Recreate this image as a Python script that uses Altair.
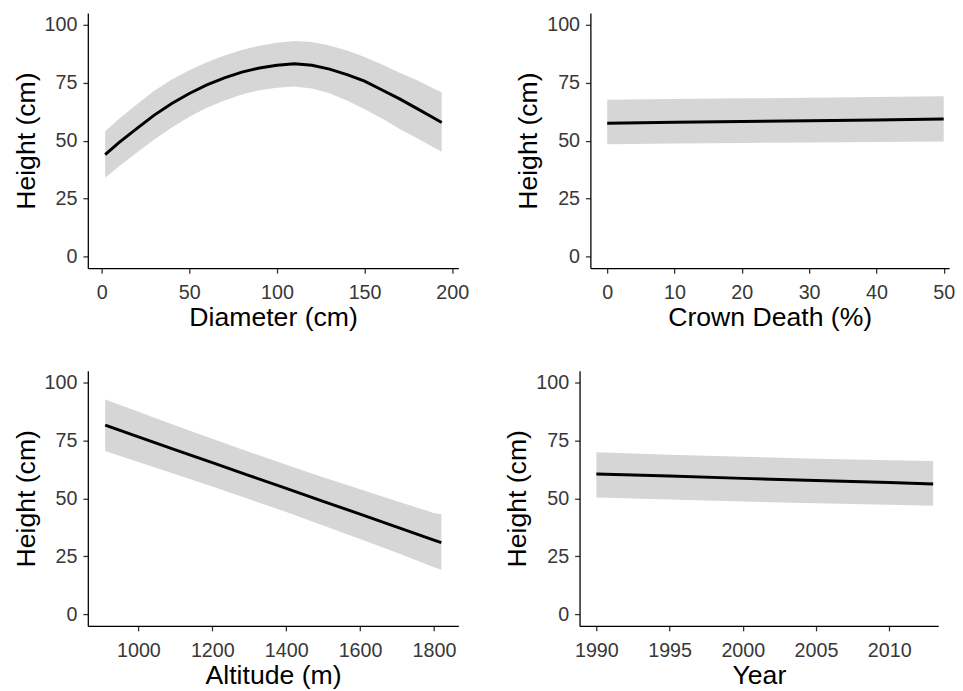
import altair as alt
import pandas as pd

# ---- data ----
diam = [2, 10, 20, 30, 40, 50, 60, 70, 80, 90, 100, 110, 120, 130, 140, 150, 160, 170, 180, 190, 194]
diam_fit = [44.0, 49.2, 55.2, 61.0, 66.0, 70.3, 74.0, 77.0, 79.5, 81.3, 82.5, 83.1, 82.5, 80.8, 78.4, 75.6, 71.8, 68.0, 63.8, 59.5, 57.8]
diam_hi = [54.0, 59.4, 65.6, 71.5, 76.3, 80.3, 83.8, 86.7, 89.1, 90.9, 92.2, 92.9, 92.5, 91.0, 88.8, 86.0, 82.8, 79.2, 76.0, 72.2, 70.8]
diam_lo = [34.0, 39.0, 44.8, 50.5, 55.7, 60.3, 64.2, 67.3, 69.9, 71.7, 72.8, 73.3, 72.5, 70.4, 67.3, 63.5, 59.5, 55.0, 51.0, 46.8, 45.2]

crown = [0, 10, 20, 30, 40, 50]
crown_fit = [57.5, 57.9, 58.2, 58.6, 58.9, 59.3]
crown_hi = [67.6, 67.9, 68.2, 68.5, 68.8, 69.1]
crown_lo = [48.4, 48.7, 49.0, 49.2, 49.4, 49.6]

altitude = [910, 1000, 1100, 1200, 1300, 1400, 1500, 1600, 1700, 1800, 1820]
alt_fit = [81.5, 76.5, 70.9, 65.4, 59.8, 54.3, 48.7, 43.2, 37.6, 32.0, 30.9]
alt_hi = [92.6, 87.3, 81.4, 75.7, 70.0, 64.5, 59.1, 53.9, 48.7, 43.7, 43.1]
alt_lo = [70.4, 65.7, 60.4, 55.1, 49.6, 44.1, 38.3, 32.5, 26.5, 20.3, 19.2]

year = [1990, 1995, 2000, 2005, 2010, 2013]
year_fit = [60.5, 59.6, 58.6, 57.7, 56.8, 56.2]
year_hi = [69.8, 68.8, 67.9, 67.1, 66.4, 66.1]
year_lo = [50.3, 49.5, 48.6, 47.9, 47.2, 46.8]

y_ticks = [0, 25, 50, 75, 100]

FONT = "Liberation Sans"
BAND = "#d6d6d6"


def panel(xs, fit, lo, hi, xtitle, xdomain, xticks, width, height=259):
    df = pd.DataFrame({"x": xs, "fit": fit, "lo": lo, "hi": hi})
    xenc = alt.X(
        "x:Q",
        title=xtitle,
        scale=alt.Scale(domain=xdomain, nice=False, zero=False),
        axis=alt.Axis(values=xticks, format="d"),
    )
    yscale = alt.Scale(domain=[-5, 105], nice=False, zero=False)
    band = alt.Chart(df).mark_area(color=BAND, opacity=1).encode(
        x=xenc,
        y=alt.Y("lo:Q", scale=yscale, title="Height (cm)", axis=alt.Axis(values=y_ticks)),
        y2="hi:Q",
    )
    line = alt.Chart(df).mark_line(color="black", strokeWidth=3).encode(
        x=xenc,
        y=alt.Y("fit:Q", scale=yscale, title="Height (cm)", axis=alt.Axis(values=y_ticks)),
    )
    return alt.layer(band, line).properties(width=width, height=height)


p1 = panel(diam, diam_fit, diam_lo, diam_hi, "Diameter (cm)", [-7.9, 203.5], [0, 50, 100, 150, 200], 376)
p2 = panel(crown, crown_fit, crown_lo, crown_hi, "Crown Death (%)", [-2.5, 50.8], [0, 10, 20, 30, 40, 50], 364)
p3 = panel(altitude, alt_fit, alt_lo, alt_hi, "Altitude (m)", [863, 1866], [1000, 1200, 1400, 1600, 1800], 376)
p4 = panel(year, year_fit, year_lo, year_hi, "Year", [1988.85, 2013.35], [1990, 1995, 2000, 2005, 2010], 364)

row1 = alt.hconcat(p1, p2, spacing=46)
row2 = alt.hconcat(p3, p4, spacing=46)

chart = (
    alt.vconcat(row1, row2, spacing=41)
    .properties(padding={"left": 4, "top": 0, "right": 0, "bottom": 0}, background="white")
    .configure_view(stroke=None)
    .configure_axis(
        grid=False,
        domainColor="black",
        domainWidth=1.3,
        tickColor="#333333",
        tickWidth=1.3,
        tickSize=5,
        labelFont=FONT,
        labelFontSize=20,
        labelColor="#383838",
        titleFont=FONT,
        titleFontSize=27,
        titleFontWeight="normal",
        titleColor="black",
    )
    .configure_axisX(labelPadding=10, titlePadding=2)
    .configure_axisY(labelPadding=6, titlePadding=4)
)

chart.save("out.html", embed_options={"renderer": "svg", "actions": False})
